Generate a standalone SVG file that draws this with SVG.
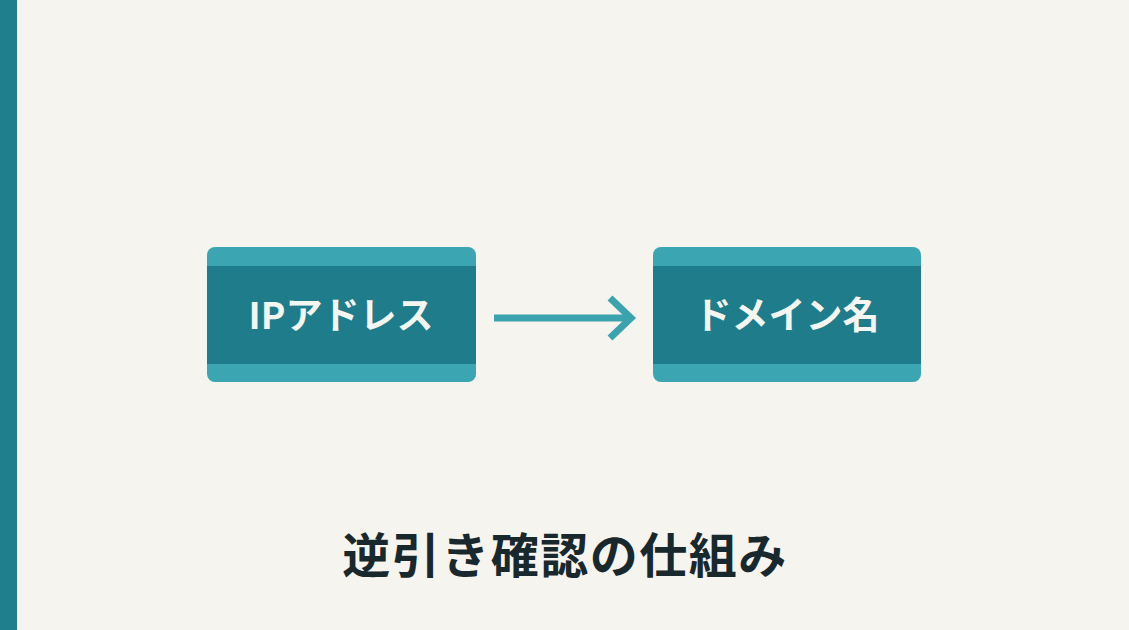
<svg xmlns="http://www.w3.org/2000/svg" width="1129" height="630" viewBox="0 0 1129 630">
<defs>
<style>
.box-light{fill:#3ba6b1}
.box-dark{fill:#1f7d8b}
.lbl{font-family:"Noto Sans CJK JP","Noto Sans",sans-serif;font-weight:700;font-size:37px;fill:#f4f6f2;text-anchor:middle}
.title{font-family:"Noto Sans CJK JP","Noto Sans",sans-serif;font-weight:700;font-size:48px;letter-spacing:1.5px;fill:#18282c;text-anchor:middle}
.conn{stroke:#3aa3ae;stroke-width:7;fill:none}
</style>
<clipPath id="c1"><rect x="207" y="247" width="269" height="135" rx="8"/></clipPath>
<clipPath id="c2"><rect x="653" y="247" width="268" height="135" rx="8"/></clipPath>
</defs>
<rect width="1129" height="630" fill="#f6f4ee"/>
<rect x="0" y="0" width="17" height="630" fill="#1f7f8c"/>
<g id="node-ip">
<g clip-path="url(#c1)">
<rect class="box-light" x="207" y="247" width="269" height="135"/>
<rect class="box-dark" x="207" y="266" width="269" height="98"/>
</g>
<text class="lbl" x="341" y="329">IPアドレス</text>
</g>
<g id="node-domain">
<g clip-path="url(#c2)">
<rect class="box-light" x="653" y="247" width="268" height="135"/>
<rect class="box-dark" x="653" y="266" width="268" height="98"/>
</g>
<text class="lbl" x="787" y="329">ドメイン名</text>
</g>
<g id="connectors">
<line class="conn" x1="494" y1="318" x2="630" y2="318"/>
<polyline class="conn" points="610,298 631,318 610,338" stroke-linejoin="miter" stroke-width="8"/>
</g>
<g id="title">
<text class="title" x="565" y="573">逆引き確認の仕組み</text>
</g>
</svg>
